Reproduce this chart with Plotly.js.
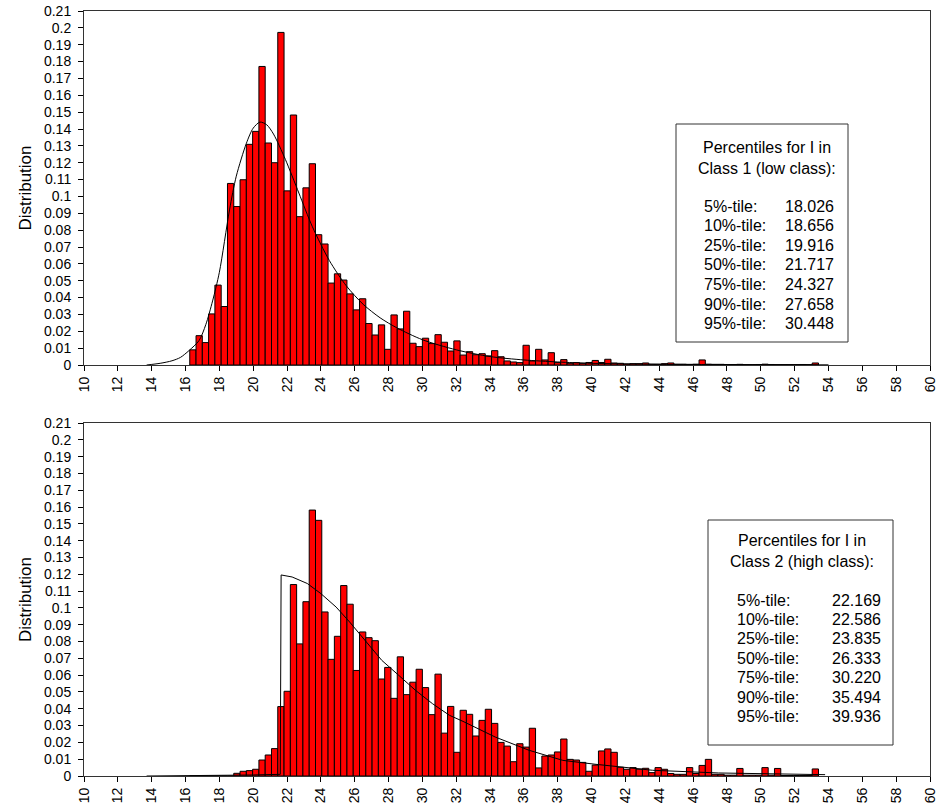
<!DOCTYPE html>
<html>
<head>
<meta charset="utf-8">
<script src="https://cdn.plot.ly/plotly-3.0.1.min.js"></script>
<style>
html,body{margin:0;padding:0;background:#fff;}
#chart{width:937px;height:808px;}
</style>
</head>
<body>
<div id="chart"></div>
<script>
// ---- Data ----
// histogram bins (shared grid): first bin left edge and width (x units)
const binLeft = 16.25;
const binWidth = 0.3716;

// Class 1 (low class) distribution per bin
const class1Dist = [
0.009,0.0174,0.0133,0.0303,0.0474,0.0347,0.1077,0.094,0.1099,0.1309,
0.1386,0.1771,0.1317,0.12,0.1973,0.1033,0.1483,0.088,0.1051,0.1194,
0.0773,0.0718,0.0486,0.0541,0.0504,0.0422,0.0327,0.0393,0.0246,0.0178,
0.0238,0.0093,0.0297,0.0214,0.0319,0.0129,0.0109,0.0159,0.0127,0.018,
0.0135,0.0083,0.0143,0.0059,0.0079,0.0061,0.0067,0.0054,0.0085,0.0049,
0.0024,0.0018,0.0014,0.0117,0.0024,0.0093,0.003,0.0073,0.0014,0.0032,
0.001,0.0014,0.001,0.0015,0.0027,0.0015,0.0034,0.0012,0.001,0.0006,
0.0008,0.0008,0.0012,0.0005,0.0005,0.0008,0.0012,0.0005,0.0005,0.0004,
0.0005,0.003,0.0005,0.0004,0.0004,0.0003,0.0003,0.0004,0.0002,0.0002,
0.0003,0.0005,0.0003,0.0002,0.0002,0.0002,0.0002,0.0003,0.0002,0.0012];

// Class 2 (high class) distribution per bin
const class2Dist = [
0,0,0,0,0,0,0,0.0016,0.0028,0.0032,
0.004,0.0095,0.0125,0.0163,0.0413,0.0504,0.1139,0.0786,0.1037,0.1582,
0.1521,0.0976,0.0694,0.0831,0.1133,0.1022,0.0628,0.0857,0.0823,0.0805,
0.0577,0.0646,0.0462,0.0709,0.0484,0.0558,0.0635,0.0526,0.0365,0.0606,
0.0255,0.0414,0.0141,0.0391,0.0367,0.0238,0.0331,0.0397,0.0313,0.02,
0.0178,0.0085,0.0192,0.0172,0.0284,0.0048,0.0119,0.0125,0.0143,0.022,
0.0099,0.0095,0.0081,0.0028,0.0065,0.0149,0.0161,0.0141,0.0052,0.004,
0.005,0.0041,0.0046,0.002,0.005,0.004,0.0015,0.001,0.001,0.005,
0.0015,0.0063,0.0099,0.001,0.001,0.0005,0.0005,0.0045,0.0005,0.0005,
0.0005,0.005,0.0005,0.0045,0.0003,0.0003,0.0003,0.0003,0.0003,0.0042];

// fitted density curves
const fit1X = [13.7,14.5,15.2,15.7,16.2,16.8,17.2,17.6,18.0,18.6,19.0,19.6,20.0,20.4,20.8,21.2,21.9,22.7,23.5,24.5,25.5,26.5,27.5,28.5,30,32,34,36,38,40,44,48,54];
const fit1Y = [0,0.001,0.0025,0.0045,0.0085,0.0145,0.024,0.038,0.055,0.092,0.112,0.1316,0.1405,0.1441,0.1425,0.137,0.122,0.102,0.082,0.062,0.047,0.036,0.028,0.022,0.015,0.009,0.005,0.003,0.0018,0.001,0.0004,0.0002,0.0001];

const fit2X = [13.7,16,18,20,21.6,21.65,22.3,23.2,24.0,24.9,25.7,26.7,27.6,28.6,29.6,30.6,31.6,32.4,34.3,36.3,38.3,40.2,42.2,43.6,47.5,51.4,53.8];
const fit2Y = [0,0.0001,0.0003,0.0006,0.001,0.1196,0.1184,0.1145,0.1085,0.1005,0.0916,0.0797,0.0688,0.0599,0.0509,0.043,0.0361,0.0325,0.0232,0.0153,0.0093,0.007,0.005,0.0034,0.0018,0.001,0.0008];

const pctLabels = ["5%-tile:","10%-tile:","25%-tile:","50%-tile:","75%-tile:","90%-tile:","95%-tile:"];
const class1Pct = ["18.026","18.656","19.916","21.717","24.327","27.658","30.448"];
const class2Pct = ["22.169","22.586","23.835","26.333","30.220","35.494","39.936"];
const class1Title = ["Percentiles for I in","Class 1 (low class):"];
const class2Title = ["Percentiles for I in","Class 2 (high class):"];

// ---- Layout helpers (pixel -> paper) ----
const W = 937, H = 808;
const M = {l:84, r:7, t:11, b:32};
const PW = W - M.l - M.r, PH = H - M.t - M.b;
const px = x => (x - M.l) / PW;
const py = y => (H - M.b - y) / PH;

const FONT = "Liberation Sans, Arial, Helvetica, sans-serif";
const BOXFONT = 16;

const barStyle = {color:'#FF0000', line:{color:'#000000', width:1}};
const traces = [
  {type:'bar', x0: binLeft + binWidth/2, dx: binWidth, y: class1Dist, marker: barStyle, xaxis:'x', yaxis:'y', hoverinfo:'skip'},
  {type:'scatter', mode:'lines', x: fit1X, y: fit1Y, line:{color:'#000', width:1, shape:'spline', smoothing:0.8}, xaxis:'x', yaxis:'y'},
  {type:'bar', x0: binLeft + binWidth/2, dx: binWidth, y: class2Dist, marker: barStyle, xaxis:'x2', yaxis:'y2', hoverinfo:'skip'},
  {type:'scatter', mode:'lines', x: fit2X, y: fit2Y, line:{color:'#000', width:1, shape:'linear'}, xaxis:'x2', yaxis:'y2'}
];

function xAx(anchor){
  return {range:[10,60], dtick:2, tick0:10, tickangle:-90, ticks:'outside', ticklen:5, tickcolor:'#000',
    showline:true, linecolor:'#333', linewidth:1, mirror:true, showgrid:false, zeroline:false,
    ticklabeloverflow:'allow',
    tickfont:{family:FONT, size:14, color:'#000'}, anchor:anchor, fixedrange:true};
}
function yAx(anchor, dom){
  return {range:[0,0.21], dtick:0.01, tick0:0, ticks:'outside', ticklen:5, tickcolor:'#000',
    showline:true, linecolor:'#333', linewidth:1, mirror:true, showgrid:false, zeroline:false,
    ticklabeloverflow:'allow',
    tickfont:{family:FONT, size:14, color:'#000'}, anchor:anchor, domain:dom, ticklabelstandoff:4,
    title:{text:'Distribution', font:{family:FONT, size:17, color:'#000'}, standoff:8}};
}

const annotations = [];
const shapes = [];
function addBox(box, titleLines, titleCx, titleY, rowY0, rowStep, labX, valX, vals){
  shapes.push({type:'rect', xref:'paper', yref:'paper', x0:px(box[0]), x1:px(box[1]), y0:py(box[3]), y1:py(box[2]),
    line:{color:'#333', width:1}, fillcolor:'rgba(255,255,255,0)'});
  titleLines.forEach((t,i)=>annotations.push({xref:'paper', yref:'paper', x:px(titleCx), y:py(titleY[i]),
    xanchor:'center', yanchor:'middle', text:t, showarrow:false, font:{family:FONT, size:BOXFONT, color:'#000'}}));
  pctLabels.forEach((t,i)=>{
    annotations.push({xref:'paper', yref:'paper', x:px(labX), y:py(rowY0 + i*rowStep), xanchor:'left', yanchor:'middle',
      text:t, showarrow:false, font:{family:FONT, size:BOXFONT, color:'#000'}});
    annotations.push({xref:'paper', yref:'paper', x:px(valX), y:py(rowY0 + i*rowStep), xanchor:'left', yanchor:'middle',
      text:vals[i], showarrow:false, font:{family:FONT, size:BOXFONT, color:'#000'}});
  });
}
addBox([676,848,124,342], class1Title, 767, [147,168], 206, 19.6, 702, 783, class1Pct);
addBox([708,893,520,745], class2Title, 802, [540,561], 600, 19.4, 735, 830, class2Pct);

const layout = {
  width:W, height:H, margin:M, paper_bgcolor:'#fff', plot_bgcolor:'#fff',
  showlegend:false, bargap:0, barmode:'overlay',
  xaxis: xAx('y'),
  yaxis: yAx('x', [py(365), py(11)]),
  xaxis2: xAx('y2'),
  yaxis2: yAx('x2', [py(776), py(423)]),
  annotations: annotations, shapes: shapes,
  font:{family:FONT, color:'#000'}
};

Plotly.newPlot('chart', traces, layout, {displayModeBar:false, staticPlot:true});
</script>
</body>
</html>
